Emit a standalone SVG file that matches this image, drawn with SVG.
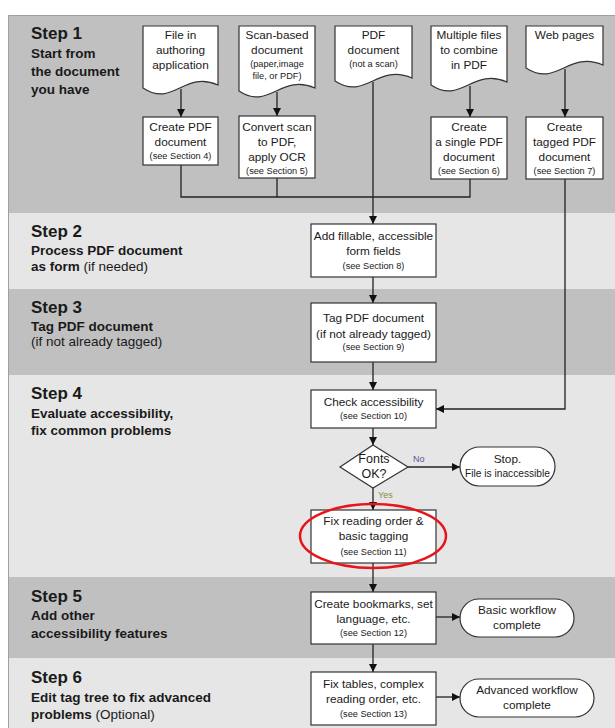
<svg xmlns="http://www.w3.org/2000/svg" width="615" height="728" viewBox="0 0 615 728">
<defs>
<marker id="ah" viewBox="0 0 10 10" refX="10" refY="5" markerWidth="8" markerHeight="8" orient="auto" markerUnits="userSpaceOnUse"><path d="M0,0 L10,5 L0,10 z" fill="#111"/></marker>
<style>
.dark{fill:#c0c0c0}
.light{fill:#e6e6e6}
.shape{fill:#fff;stroke:#333;stroke-width:1.2}
.line{fill:none;stroke:#222;stroke-width:1.3}
.arr{fill:none;stroke:#222;stroke-width:1.3;marker-end:url(#ah)}
text{font-family:"Liberation Sans",Arial,sans-serif;fill:#1a1a1a}
.h{font-size:17px;font-weight:bold}
.s{font-size:13.5px;font-weight:bold}
.r{font-size:13.5px;font-weight:normal}
.t{font-size:11.8px;text-anchor:middle}
.sm{font-size:9.2px;text-anchor:middle}
</style>
</defs>
<rect width="615" height="728" fill="#fff"/>
<g id="bands">
<rect class="dark" x="8" y="15" width="607" height="198"/>
<rect class="light" x="8" y="213" width="607" height="76"/>
<rect class="dark" x="8" y="289" width="607" height="86"/>
<rect class="light" x="8" y="375" width="607" height="202"/>
<rect class="dark" x="8" y="577" width="607" height="81"/>
<rect class="light" x="8" y="658" width="607" height="70"/>
<path d="M8.5,728 V15.5 H615" fill="none" stroke="#a0a0a0" stroke-width="1"/>
</g>
<g id="step-labels">
<text class="h" x="31" y="39">Step 1</text>
<text class="s" x="31" y="58">Start from</text>
<text class="s" x="31" y="76">the document</text>
<text class="s" x="31" y="94">you have</text>
<text class="h" x="31" y="237">Step 2</text>
<text class="s" x="31" y="255">Process PDF document</text>
<text class="s" x="31" y="271">as form <tspan class="r">(if needed)</tspan></text>
<text class="h" x="31" y="313">Step 3</text>
<text class="s" x="31" y="331">Tag PDF document</text>
<text class="r" x="31" y="346">(if not already tagged)</text>
<text class="h" x="31" y="399">Step 4</text>
<text class="s" x="31" y="418">Evaluate accessibility,</text>
<text class="s" x="31" y="435">fix common problems</text>
<text class="h" x="31" y="602">Step 5</text>
<text class="s" x="31" y="620">Add other</text>
<text class="s" x="31" y="638">accessibility features</text>
<text class="h" x="31" y="683">Step 6</text>
<text class="s" x="31" y="702">Edit tag tree to fix advanced</text>
<text class="s" x="31" y="719">problems <tspan class="r">(Optional)</tspan></text>
</g>
<g id="connectors">
<line class="arr" x1="181" y1="89" x2="181" y2="117"/>
<line class="arr" x1="277" y1="92" x2="277" y2="116"/>
<line class="arr" x1="470" y1="86" x2="470" y2="117"/>
<line class="arr" x1="565" y1="69" x2="565" y2="117"/>
<polyline class="line" points="181,165 181,197 470,197 470,179"/>
<line class="line" x1="277" y1="178" x2="277" y2="197"/>
<line class="arr" x1="373" y1="82" x2="373" y2="224"/>
<line class="arr" x1="373" y1="277" x2="373" y2="303"/>
<line class="arr" x1="373" y1="362" x2="373" y2="390"/>
<polyline class="arr" points="565,179 565,409 436,409"/>
<line class="arr" x1="373" y1="428" x2="373" y2="445"/>
<line class="arr" x1="408" y1="467" x2="460" y2="467"/>
<line class="arr" x1="373" y1="488" x2="373" y2="510"/>
<line class="arr" x1="373" y1="563" x2="373" y2="592"/>
<line class="arr" x1="436" y1="617" x2="460" y2="617"/>
<line class="arr" x1="373" y1="644" x2="373" y2="672"/>
<line class="arr" x1="436" y1="697" x2="460" y2="697"/>
<text x="413" y="462" style="font-size:9px;fill:#55559a">No</text>
<text x="378" y="498" style="font-size:9px;fill:#8c8c3c">Yes</text>
</g>
<g id="doc-authoring">
<path class="shape" d="M143,26 H218 V85 C184,70 173,108 143,88 Z"/>
<text class="t" x="180.5" y="39">File in</text>
<text class="t" x="180.5" y="54">authoring</text>
<text class="t" x="180.5" y="69">application</text>
</g>
<g id="doc-scan">
<path class="shape" d="M239,26 H315 V88 C281,73 269,111 239,91 Z"/>
<text class="t" x="277" y="39">Scan-based</text>
<text class="t" x="277" y="54">document</text>
<text class="sm" x="277" y="67">(paper,image</text>
<text class="sm" x="277" y="79">file, or PDF)</text>
</g>
<g id="doc-pdf">
<path class="shape" d="M335,26 H412 V78 C377,63 366,101 335,81 Z"/>
<text class="t" x="373.5" y="39">PDF</text>
<text class="t" x="373.5" y="54">document</text>
<text class="sm" x="373.5" y="67">(not a scan)</text>
</g>
<g id="doc-multiple">
<path class="shape" d="M431,26 H507 V82 C473,67 461,105 431,85 Z"/>
<text class="t" x="469" y="39">Multiple files</text>
<text class="t" x="469" y="54">to combine</text>
<text class="t" x="469" y="69">in PDF</text>
</g>
<g id="doc-web">
<path class="shape" d="M526,26 H603 V65 C568,50 557,88 526,68 Z"/>
<text class="t" x="564.5" y="39">Web pages</text>
</g>
<g id="create-pdf">
<rect class="shape" x="143" y="117" width="75" height="48"/>
<text class="t" x="180.5" y="131">Create PDF</text>
<text class="t" x="180.5" y="146">document</text>
<text class="sm" x="180.5" y="159">(see Section 4)</text>
</g>
<g id="convert-scan">
<rect class="shape" x="239" y="116" width="76" height="62"/>
<text class="t" x="277" y="131">Convert scan</text>
<text class="t" x="277" y="146">to PDF,</text>
<text class="t" x="277" y="161">apply OCR</text>
<text class="sm" x="277" y="174">(see Section 5)</text>
</g>
<g id="create-single">
<rect class="shape" x="431" y="117" width="76" height="62"/>
<text class="t" x="469" y="131">Create</text>
<text class="t" x="469" y="146">a single PDF</text>
<text class="t" x="469" y="161">document</text>
<text class="sm" x="469" y="174">(see Section 6)</text>
</g>
<g id="create-tagged">
<rect class="shape" x="526" y="117" width="77" height="62"/>
<text class="t" x="564.5" y="131">Create</text>
<text class="t" x="564.5" y="146">tagged PDF</text>
<text class="t" x="564.5" y="161">document</text>
<text class="sm" x="564.5" y="174">(see Section 7)</text>
</g>
<g id="form-fields">
<rect class="shape" x="311" y="224" width="125" height="53"/>
<text class="t" x="373.5" y="240">Add fillable, accessible</text>
<text class="t" x="373.5" y="255">form fields</text>
<text class="sm" x="373.5" y="269">(see Section 8)</text>
</g>
<g id="tag-pdf">
<rect class="shape" x="311" y="303" width="125" height="59"/>
<text class="t" x="373.5" y="322">Tag PDF document</text>
<text class="t" x="373.5" y="338">(if not already tagged)</text>
<text class="sm" x="373.5" y="350">(see Section 9)</text>
</g>
<g id="check-access">
<rect class="shape" x="311" y="390" width="125" height="38"/>
<text class="t" x="373.5" y="406">Check accessibility</text>
<text class="sm" x="373.5" y="419">(see Section 10)</text>
</g>
<g id="fonts-ok">
<polygon class="shape" points="373,445 408,467 373,488 340,467"/>
<text class="t" x="374" y="463" style="font-size:12.5px">Fonts</text>
<text class="t" x="374" y="478" style="font-size:12.5px">OK?</text>
</g>
<g id="stop">
<rect class="shape" x="460" y="447" width="95" height="39" rx="19.5"/>
<text class="t" x="507.5" y="463">Stop.</text>
<text class="t" x="507.5" y="477" style="font-size:10.2px">File is inaccessible</text>
</g>
<g id="fix-reading">
<rect class="shape" x="311" y="510" width="125" height="53"/>
<text class="t" x="373.5" y="525">Fix reading order &amp;</text>
<text class="t" x="373.5" y="540">basic tagging</text>
<text class="sm" x="373.5" y="555">(see Section 11)</text>
</g>
<g id="highlight">
<ellipse cx="373" cy="536" rx="73" ry="32" fill="none" stroke="#e8141a" stroke-width="2.5"/>
</g>
<g id="bookmarks">
<rect class="shape" x="311" y="592" width="125" height="52"/>
<text class="t" x="373.5" y="608">Create bookmarks, set</text>
<text class="t" x="373.5" y="623">language, etc.</text>
<text class="sm" x="373.5" y="636">(see Section 12)</text>
</g>
<g id="basic-complete">
<rect class="shape" x="460" y="599" width="114" height="38" rx="19"/>
<text class="t" x="517" y="614">Basic workflow</text>
<text class="t" x="517" y="629">complete</text>
</g>
<g id="fix-tables">
<rect class="shape" x="311" y="672" width="125" height="53"/>
<text class="t" x="373.5" y="688">Fix tables, complex</text>
<text class="t" x="373.5" y="703">reading order, etc.</text>
<text class="sm" x="373.5" y="717">(see Section 13)</text>
</g>
<g id="advanced-complete">
<rect class="shape" x="460" y="679" width="134" height="38" rx="19"/>
<text class="t" x="527" y="694">Advanced workflow</text>
<text class="t" x="527" y="709">complete</text>
</g>
</svg>
